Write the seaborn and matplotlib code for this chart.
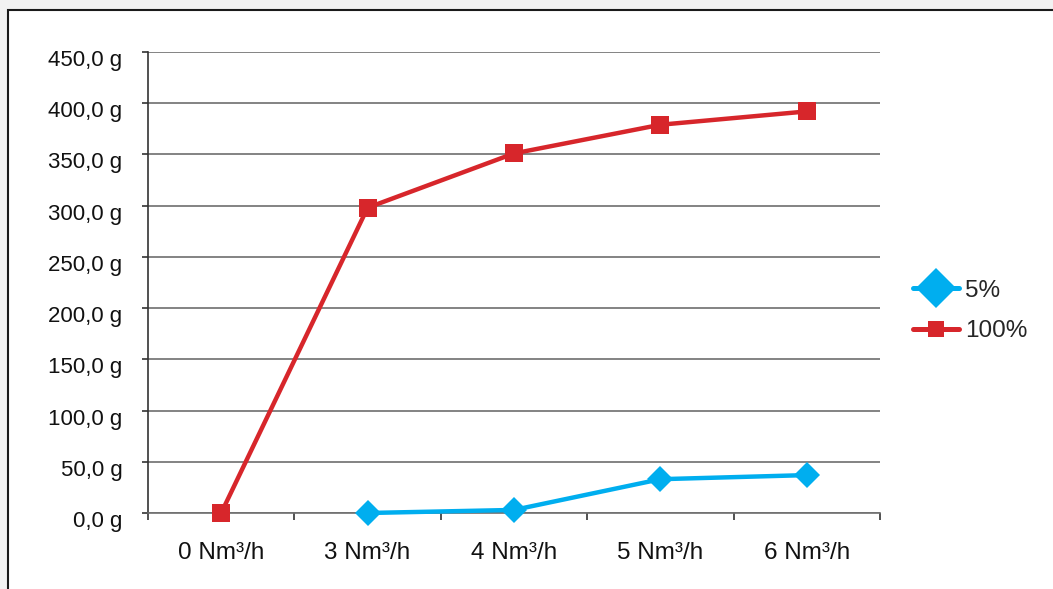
import numpy as np
import pandas as pd
import matplotlib
matplotlib.use("Agg")
import matplotlib.pyplot as plt
from matplotlib.patches import Rectangle
from matplotlib.ticker import FixedLocator, FuncFormatter
from matplotlib.transforms import ScaledTranslation
import seaborn as sns

categories = ["0 Nm³/h", "3 Nm³/h", "4 Nm³/h", "5 Nm³/h", "6 Nm³/h"]
series_5 = [np.nan, 0.0, 3.0, 33.0, 37.0]
series_100 = [0.0, 298.0, 351.0, 379.0, 392.0]
series_names = ["5%", "100%"]
y_ticks = [0, 50, 100, 150, 200, 250, 300, 350, 400, 450]

sns.set_theme(style="white")
plt.rcParams["font.family"] = ["Liberation Sans", "DejaVu Sans"]

pos = np.arange(len(categories))
df = pd.DataFrame({
    "pos": np.concatenate([pos, pos]),
    "value": series_5 + series_100,
    "series": [series_names[0]] * len(pos) + [series_names[1]] * len(pos),
})

fig = plt.figure(figsize=(10.53, 5.89), dpi=100)
fig.patch.set_facecolor("#f2f2f2")
fig.patches.append(Rectangle((8 / 1053, -0.1), 1.2, (589 - 10) / 589 + 0.1,
                             transform=fig.transFigure, facecolor="white",
                             edgecolor="#1a1a1a", linewidth=1.5, zorder=-5))

ax = fig.add_axes([148 / 1053, (589 - 513) / 589, 732 / 1053, 461 / 589])
ax.set_facecolor("none")
ax.set_zorder(2)

colors = {"5%": "#00aeef", "100%": "#d7262b"}
markers = {"5%": "D", "100%": "s"}
sizes = {"5%": 13, "100%": 12.5}
for name in series_names:
    sub = df[df["series"] == name].dropna()
    sns.lineplot(data=sub, x="pos", y="value", ax=ax, color=colors[name],
                 marker=markers[name], markersize=sizes[name],
                 markeredgewidth=0, linewidth=3.2, label=name, zorder=3,
                 clip_on=False)

ax.set_xlim(-0.5, len(categories) - 0.5)
ax.set_ylim(0, 450)
ax.yaxis.set_major_locator(FixedLocator(y_ticks))
ax.yaxis.set_major_formatter(FuncFormatter(lambda v, p: f"{v:.1f}".replace(".", ",") + " g"))
ax.grid(axis="y", color="#6e6e6e", linewidth=1.2)
ax.grid(axis="x", visible=False)

ax.xaxis.set_major_locator(FixedLocator(np.arange(len(categories) + 1) - 0.5))
ax.xaxis.set_major_formatter(FuncFormatter(lambda v, p: ""))
ax.xaxis.set_minor_locator(FixedLocator(pos))
ax.set_xticklabels(categories, minor=True)
ax.tick_params(axis="x", which="major", direction="out", length=5, width=1.2,
               color="#333333", bottom=True)
ax.tick_params(axis="x", which="minor", length=0, pad=21, labelsize=17.5,
               labelcolor="#111111")
ax.tick_params(axis="y", which="major", direction="out", length=4, width=1.2,
               color="#333333", left=True, labelsize=16, labelcolor="#111111",
               pad=14.5)

# y labels sit slightly below their gridlines
shift = ScaledTranslation(0, -6 / 100, fig.dpi_scale_trans)
for lab in ax.get_yticklabels():
    lab.set_transform(lab.get_transform() + shift)

for side in ["top", "right"]:
    ax.spines[side].set_visible(False)
ax.spines["left"].set_color("#333333")
ax.spines["left"].set_linewidth(1.2)
ax.spines["bottom"].set_color("#6e6e6e")
ax.spines["bottom"].set_linewidth(1.2)
ax.set_xlabel("")
ax.set_ylabel("")

leg = ax.legend(loc="center left", bbox_to_anchor=(913 / 1053, 1 - 311 / 589),
                bbox_transform=fig.transFigure, frameon=False, fontsize=17.5,
                handlelength=1.9, handletextpad=0.25, labelspacing=0.78,
                borderpad=0, borderaxespad=0)
for h, ms in zip(leg.legend_handles, [20, 12]):
    h.set_markersize(ms)
    h.set_linewidth(3.6)

fig.savefig("out.png", dpi=100, facecolor=fig.get_facecolor())
